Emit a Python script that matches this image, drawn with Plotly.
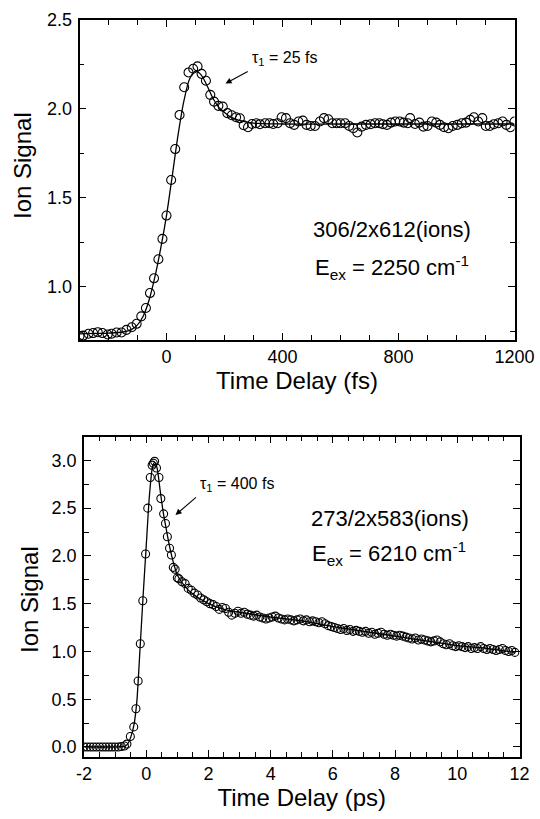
import plotly.graph_objects as go

# ---------------- Top panel data (fs) ----------------
top_t = [-300, -287, -269, -253, -237, -221, -203, -189, -172, -155, -138, -120, -103, -87, -71,
         -57, -43, -28, -14, 0, 16, 30, 45, 61, 76, 92, 107, 121, 136, 151, 164, 179, 194, 210,
         225, 240, 253, 266, 281, 295, 309, 322, 340, 355, 368, 383, 397, 412, 426, 440, 455,
         470, 483, 497, 512, 529, 543, 558, 572, 587, 600, 616, 630, 644, 658, 673, 688, 704,
         719, 734, 746, 760, 774, 789, 804, 818, 832, 840, 857, 872, 886, 900, 915, 930, 943,
         957, 972, 987, 1003, 1018, 1033, 1047, 1060, 1075, 1089, 1101, 1115, 1129, 1144,
         1159, 1172, 1186, 1200]
top_sig = [0.722, 0.725, 0.735, 0.739, 0.744, 0.739, 0.731, 0.735, 0.742, 0.742, 0.757, 0.772,
           0.791, 0.833, 0.880, 0.964, 1.047, 1.154, 1.269, 1.40, 1.60, 1.774, 1.966, 2.122,
           2.205, 2.226, 2.239, 2.197, 2.158, 2.079, 2.041, 2.017, 2.013, 1.976, 1.964, 1.953,
           1.947, 1.908, 1.897, 1.915, 1.919, 1.914, 1.919, 1.919, 1.915, 1.919, 1.953, 1.948,
           1.919, 1.910, 1.929, 1.934, 1.910, 1.904, 1.904, 1.929, 1.948, 1.942, 1.919, 1.919,
           1.919, 1.919, 1.904, 1.891, 1.867, 1.900, 1.910, 1.914, 1.919, 1.919, 1.914, 1.910,
           1.923, 1.929, 1.929, 1.923, 1.919, 1.948, 1.915, 1.923, 1.900, 1.904, 1.929, 1.923,
           1.910, 1.897, 1.891, 1.904, 1.910, 1.919, 1.923, 1.938, 1.953, 1.929, 1.948, 1.904,
           1.904, 1.914, 1.919, 1.929, 1.910, 1.897, 1.929]
top_fit_t = [-300, -250, -200, -150, -120, -100, -80, -60, -40, -20, 0, 20, 40, 60, 80, 100,
             120, 140, 160, 180, 200, 220, 250, 300, 400, 600, 800, 1000, 1200]
top_fit = [0.735, 0.737, 0.739, 0.745, 0.760, 0.785, 0.835, 0.925, 1.055, 1.215, 1.400, 1.625,
           1.855, 2.045, 2.170, 2.212, 2.190, 2.130, 2.060, 2.010, 1.980, 1.955, 1.935, 1.920,
           1.915, 1.915, 1.915, 1.915, 1.915]

# ---------------- Bottom panel data (ps) ----------------
bot_t = [-2.0, -1.9, -1.8, -1.7, -1.6, -1.5, -1.4, -1.3, -1.2, -1.1, -1.0, -0.9, -0.8, -0.7,
         -0.62, -0.51, -0.40, -0.33, -0.26, -0.19, -0.11, -0.02, 0.05, 0.13, 0.19, 0.23, 0.27,
         0.33, 0.41, 0.47, 0.56, 0.62, 0.68, 0.75, 0.81, 0.87, 0.93, 1.00,
         1.05, 1.15, 1.25, 1.35, 1.45, 1.55, 1.65, 1.75, 1.85, 1.95, 2.05, 2.15, 2.25, 2.35,
         2.45, 2.55, 2.65, 2.75, 2.85, 2.95, 3.05, 3.15, 3.25, 3.35, 3.45, 3.55, 3.65, 3.75,
         3.85, 3.95, 4.05, 4.15, 4.25, 4.35, 4.45, 4.55, 4.65, 4.75, 4.85, 4.95, 5.05, 5.15,
         5.25, 5.35, 5.45, 5.55, 5.65, 5.75, 5.85, 5.95, 6.05, 6.15, 6.25, 6.35, 6.45, 6.55,
         6.65, 6.75, 6.85, 6.95, 7.05, 7.15, 7.25, 7.35, 7.45, 7.55, 7.65, 7.75, 7.85, 7.95,
         8.05, 8.15, 8.25, 8.35, 8.45, 8.55, 8.65, 8.75, 8.85, 8.95, 9.05, 9.15, 9.25, 9.35,
         9.45, 9.55, 9.65, 9.75, 9.85, 9.95, 10.05, 10.15, 10.25, 10.35, 10.45, 10.55, 10.65,
         10.75, 10.85, 10.95, 11.05, 11.15, 11.25, 11.35, 11.45, 11.55, 11.65, 11.75, 11.85]
bot_sig = [0.0, 0.0, 0.0, 0.0, 0.0, 0.0, 0.0, 0.0, 0.0, 0.0, 0.0, 0.0, 0.005, 0.01,
           0.03, 0.11, 0.21, 0.40, 0.69, 1.08, 1.53, 2.02, 2.50, 2.82, 2.95, 2.97, 2.99,
           2.92, 2.82, 2.60, 2.44, 2.34, 2.20, 2.08, 2.01, 1.88, 1.86, 1.77,
           1.76, 1.73, 1.71, 1.66, 1.64, 1.61, 1.59, 1.56, 1.54, 1.52, 1.50, 1.49, 1.47, 1.44,
           1.46, 1.45, 1.41, 1.38, 1.40, 1.42, 1.40, 1.41, 1.39, 1.38, 1.37, 1.38, 1.36, 1.35,
           1.34, 1.35, 1.36, 1.37, 1.35, 1.34, 1.33, 1.34, 1.33, 1.32, 1.33, 1.34, 1.32, 1.33,
           1.31, 1.32, 1.31, 1.30, 1.31, 1.29, 1.27, 1.26, 1.25, 1.24, 1.23, 1.24, 1.22, 1.23,
           1.21, 1.22, 1.21, 1.20, 1.21, 1.19, 1.20, 1.18, 1.19, 1.20, 1.18, 1.17, 1.18, 1.17,
           1.16, 1.17, 1.16, 1.15, 1.14, 1.13, 1.14, 1.12, 1.13, 1.12, 1.11, 1.10, 1.11, 1.12,
           1.10, 1.08, 1.07, 1.08, 1.06, 1.05, 1.06, 1.05, 1.04, 1.05, 1.03, 1.04, 1.03,
           1.05, 1.03, 1.02, 1.03, 1.02, 1.01, 1.02, 1.03, 1.01, 1.00, 1.01, 0.99]
bot_fit_t = [-2.0, -1.0, -0.7, -0.6, -0.5, -0.4, -0.3, -0.2, -0.1, 0.0, 0.1, 0.2, 0.27, 0.35,
             0.45, 0.55, 0.65, 0.75, 0.9, 1.0, 1.2, 1.5, 2.0, 2.5, 3.0, 4.0, 5.0, 6.0, 7.0, 8.0,
             9.0, 10.0, 11.0, 11.85]
bot_fit = [0.0, 0.0, 0.005, 0.03, 0.10, 0.22, 0.48, 1.02, 1.58, 2.10, 2.62, 2.93, 2.98, 2.92,
           2.68, 2.45, 2.27, 2.10, 1.90, 1.80, 1.70, 1.60, 1.50, 1.44, 1.41, 1.36, 1.32, 1.26,
           1.21, 1.16, 1.11, 1.06, 1.03, 0.99]

# tick labels
top_xticks = [0, 400, 800, 1200]
top_xlabels = ["0", "400", "800", "1200"]
top_yticks = [1.0, 1.5, 2.0, 2.5]
top_ylabels = ["1.0", "1.5", "2.0", "2.5"]
bot_xticks = [-2, 0, 2, 4, 6, 8, 10, 12]
bot_xlabels = ["-2", "0", "2", "4", "6", "8", "10", "12"]
bot_yticks = [0.0, 0.5, 1.0, 1.5, 2.0, 2.5, 3.0]
bot_ylabels = ["0.0", "0.5", "1.0", "1.5", "2.0", "2.5", "3.0"]

W, H = 540, 819
FONT = "Liberation Sans, Arial, Helvetica, sans-serif"


def px(x):
    return x / W


def py(y):
    return 1 - y / H


fig = go.Figure()

marker_style = dict(symbol="circle-open", color="black", line=dict(width=1.1, color="black"))

fig.add_trace(go.Scatter(x=top_fit_t, y=top_fit, mode="lines",
                         line=dict(color="black", width=1.3, shape="spline", smoothing=0.8),
                         xaxis="x", yaxis="y", hoverinfo="skip"))
fig.add_trace(go.Scatter(x=top_t, y=top_sig, mode="markers", marker=dict(size=9, **marker_style),
                         xaxis="x", yaxis="y"))
fig.add_trace(go.Scatter(x=bot_fit_t, y=bot_fit, mode="lines",
                         line=dict(color="black", width=1.3, shape="spline", smoothing=0.6),
                         xaxis="x2", yaxis="y2", hoverinfo="skip"))
fig.add_trace(go.Scatter(x=bot_t, y=bot_sig, mode="markers", marker=dict(size=8, **marker_style),
                         xaxis="x2", yaxis="y2"))

axis_common = dict(showline=True, linecolor="black", linewidth=1.5, mirror="ticks", ticks="inside",
                   ticklen=7, tickwidth=1.3, tickcolor="black", showgrid=False, zeroline=False,
                   tickfont=dict(family=FONT, size=18, color="black"), tickmode="array")
minor_common = dict(ticks="inside", ticklen=5, tickwidth=1.1, tickcolor="black", tick0=0)
title_font = dict(family=FONT, size=24, color="black")

fig.update_layout(
    width=W, height=H, margin=dict(l=0, r=0, t=0, b=0, autoexpand=False),
    paper_bgcolor="white", plot_bgcolor="white", showlegend=False,
    xaxis=dict(domain=[px(79.5), px(514.5)], anchor="y", range=[-300, 1200],
               tickvals=top_xticks, ticktext=top_xlabels, ticklabelstandoff=0,
               minor=dict(dtick=100, **minor_common),
               title=dict(text="Time Delay (fs)", font=title_font, standoff=0),
               **axis_common),
    yaxis=dict(domain=[py(340), py(20)], anchor="x", range=[0.70, 2.5],
               tickvals=top_yticks, ticktext=top_ylabels, ticklabelstandoff=2,
               minor=dict(dtick=0.25, **minor_common),
               **axis_common),
    xaxis2=dict(domain=[px(84), px(519.5)], anchor="y2", range=[-2, 12],
                tickvals=bot_xticks, ticktext=bot_xlabels, ticklabelstandoff=0,
                minor=dict(dtick=0.5, **minor_common),
                title=dict(text="Time Delay (ps)", font=title_font, standoff=4),
                **axis_common),
    yaxis2=dict(domain=[py(756.5), py(436.5)], anchor="x2", range=[-0.1, 3.25],
                tickvals=bot_yticks, ticktext=bot_ylabels, ticklabelstandoff=2,
                minor=dict(dtick=0.25, **minor_common),
                **axis_common),
)

ann_font = dict(family=FONT, size=22, color="black")
small_font = dict(family=FONT, size=16, color="black")

annotations = [
    # y axis titles
    dict(text="Ion Signal", x=px(23), y=py(166), textangle=-90, font=title_font),
    dict(text="Ion Signal", x=px(29), y=py(600), textangle=-90, font=title_font),
    # top panel labels
    dict(text="306/2x612(ions)", x=px(392), y=py(229), font=ann_font),
    dict(text="E<sub>ex</sub> = 2250 cm<sup>-1</sup>", x=px(392), y=py(268), font=ann_font),
    # bottom panel labels
    dict(text="273/2x583(ions)", x=px(390), y=py(518), font=ann_font),
    dict(text="E<sub>ex</sub> = 6210 cm<sup>-1</sup>", x=px(389), y=py(553), font=ann_font),
]
for a in annotations:
    a.update(xref="paper", yref="paper", xanchor="center", yanchor="middle", showarrow=False)

# lifetime labels with their arrows (arrow tail at the label's lower-left corner)
arrow_labels = [
    dict(text="τ<sub>1</sub> = 25 fs", x=px(225.5), y=py(83.5), ax=24, ay=-13),
    dict(text="τ<sub>1</sub> = 400 fs", x=px(175.5), y=py(515), ax=22, ay=-19),
]
for a in arrow_labels:
    a.update(xref="paper", yref="paper", font=small_font, showarrow=True, arrowhead=2,
             arrowsize=1.1, arrowwidth=1.1, arrowcolor="black", axref="pixel", ayref="pixel",
             xanchor="left", yanchor="bottom", startstandoff=2)

fig.update_layout(annotations=annotations + arrow_labels)

fig.write_html("out.html", config={"displayModeBar": False},
               post_script="document.body.style.margin='0';document.body.style.overflow='hidden';")
